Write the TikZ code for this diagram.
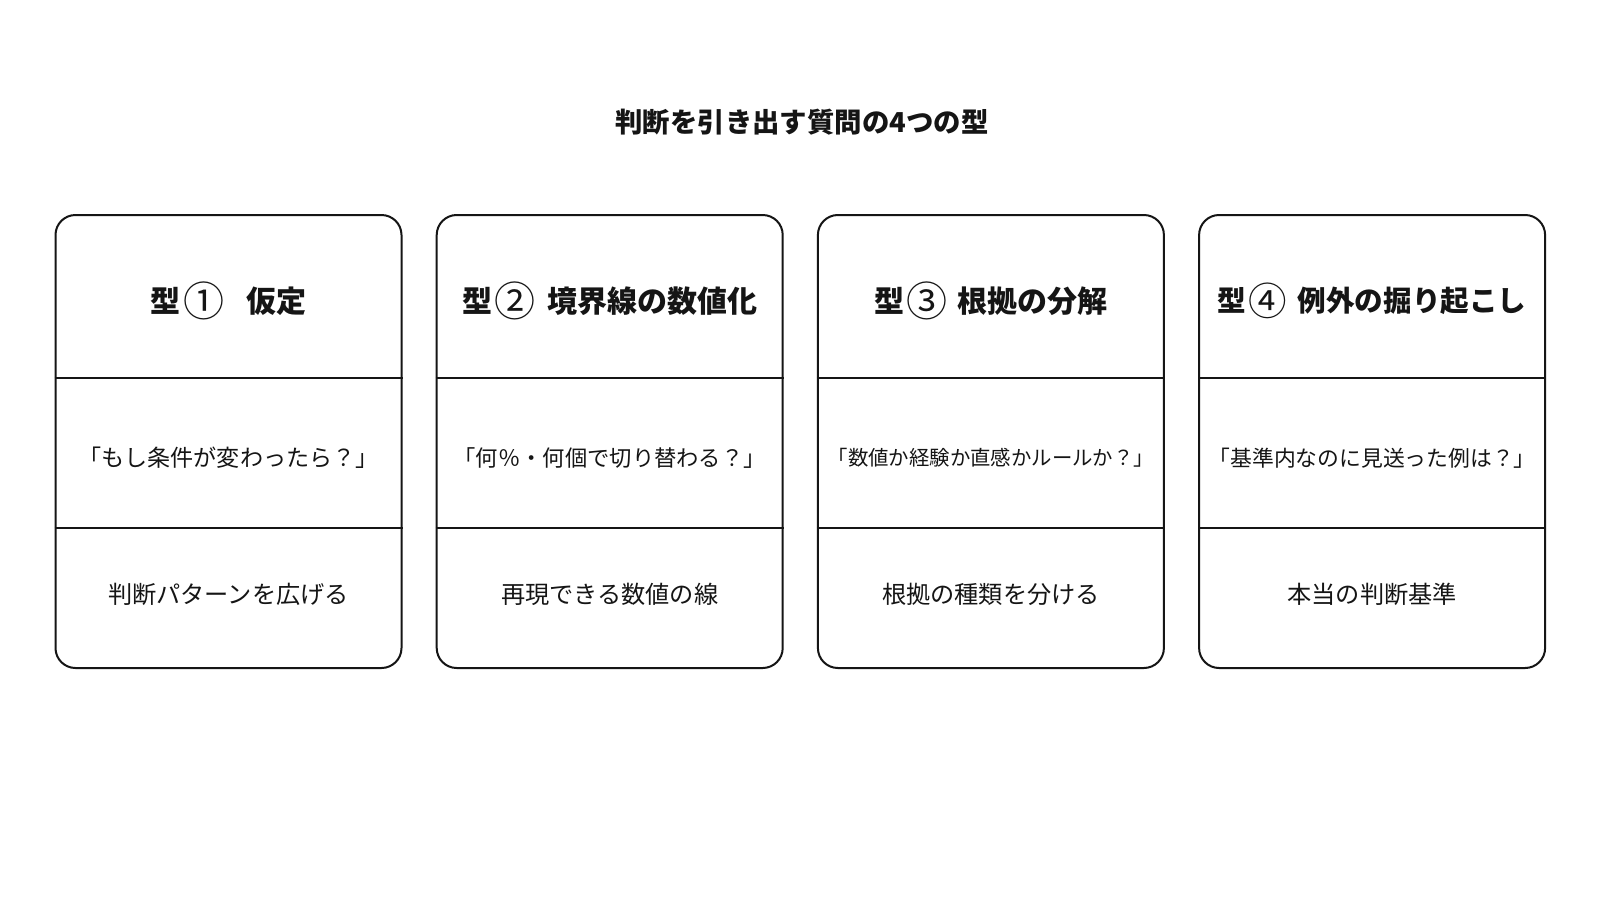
\documentclass[tikz,border=0pt]{standalone}
\usepackage{fontspec}
\setmainfont{Noto Sans CJK JP}
\usetikzlibrary{calc}
\definecolor{ink}{HTML}{151515}
\newcommand\circd[2]{\smash{\raisebox{-4pt}{\fontsize{#1}{#1}\selectfont\mdseries #2}}}
\tikzset{
  card/.style={draw=ink, line width=2pt, rounded corners=20pt, minimum width=346pt, minimum height=453pt, inner sep=0pt},
  divider/.style={draw=ink, line width=1.8pt},
  head/.style={text=ink, inner sep=0pt},
  quest/.style={text=ink, inner sep=0pt},
  result/.style={text=ink, font=\fontsize{24.2}{28}\selectfont, inner sep=0pt},
  titletext/.style={text=ink, font=\fontsize{27.4}{32}\selectfont\bfseries, inner sep=0pt}
}
\begin{document}
\begin{tikzpicture}[x=1pt,y=-1pt]
\useasboundingbox[fill=white] (0,0) rectangle (1600,900);
\node[titletext] (title) at (802,122) {判断を引き出す質問の4つの型};
\foreach \idx/\hsz/\csz/\gp/\cdg/\htx/\qsz/\qtx/\rtx in {
  0/30/41/22/①/仮定/23.1/{「もし条件が変わったら？」}/{判断パターンを広げる},
  1/30/41/11.5/②/境界線の数値化/22.3/{「何％・何個で切り替わる？」}/{再現できる数値の線},
  2/30/41/10/③/根拠の分解/20.4/{「数値か経験か直感かルールか？」}/{根拠の種類を分ける},
  3/28.6/38.5/10.5/④/例外の掘り起こし/21.8/{「基準内なのに見送った例は？」}/{本当の判断基準}}{
  \pgfmathsetmacro{\L}{55.5+\idx*381.2}
  \node[card] (card\idx) at (\L+173,441.5) {};
  \draw[divider] ($(card\idx.north west)+(0,164)$) coordinate (d\idx a) -- ($(card\idx.north east)+(0,164)$) coordinate (d\idx b);
  \draw[divider] ($(card\idx.north west)+(0,314)$) coordinate (e\idx a) -- ($(card\idx.north east)+(0,314)$) coordinate (e\idx b);
  \node[head, font=\fontsize{\hsz}{\hsz}\selectfont\bfseries] (h\idx) at (\L+173,301) {型\hspace{2.5pt}\circd{\csz}{\cdg}\hspace{\gp pt}\htx};
  \node[quest, font=\fontsize{\qsz}{\qsz}\selectfont] (q\idx) at (\L+173,458) {\qtx};
  \node[result] (r\idx) at (\L+173,594) {\rtx};
}
\end{tikzpicture}
\end{document}
